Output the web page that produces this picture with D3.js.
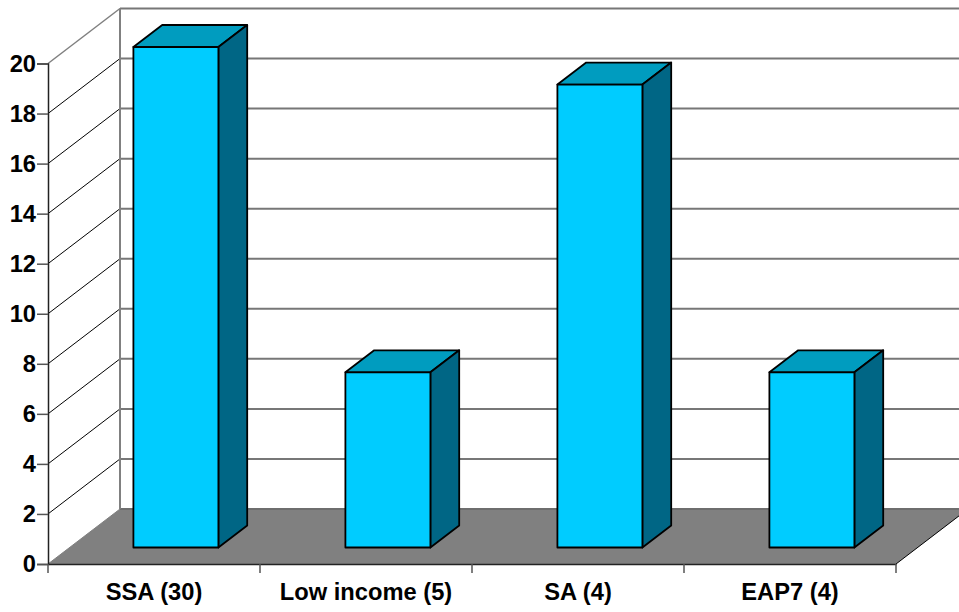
<!DOCTYPE html>
<html>
<head>
<meta charset="utf-8">
<script src="https://cdn.jsdelivr.net/npm/d3@7"></script>
<style>
html,body{margin:0;padding:0;background:#fff;overflow:hidden}
svg{display:block}
text{font-family:"Liberation Sans",Arial,sans-serif;font-weight:bold;fill:#000}
</style>
</head>
<body>
<script>
// Chart content
const categories = ["SSA (30)", "Low income (5)", "SA (4)", "EAP7 (4)"];
const values = [20, 7, 18.5, 7];
const yTicks = [0, 2, 4, 6, 8, 10, 12, 14, 16, 18, 20];

const width = 959, height = 612;
const svg = d3.select("body").append("svg").attr("width", width).attr("height", height);

// Front plane scales
const y = d3.scaleLinear().domain([0, 20]).range([564, 63.5]);
const x = d3.scaleBand().domain(categories).range([48, 896]);

// Oblique projection: depth 0 is the front plane, depth 1 the back wall
const depthX = 72, depthY = -55;
const project = (px, py, d) => [px + depthX * d, py + depthY * d];
const poly = pts => pts.map(p => p.join(",")).join(" ");

const x0 = 48, x1 = 896;

// Floor
svg.append("polygon")
  .attr("points", poly([project(x0, y(0), 0), project(x1, y(0), 0), project(x1, y(0), 1), project(x0, y(0), 1)]))
  .attr("fill", "#808080");

// Right floor edge
svg.append("line")
  .attr("x1", x1).attr("y1", y(0))
  .attr("x2", x1 + depthX).attr("y2", y(0) + depthY)
  .attr("stroke", "#000").attr("stroke-width", 1);

// Grid lines across the side wall and back wall
yTicks.forEach(t => {
  const [bx, by] = project(x0, y(t), 1);
  const edge = t === 20;
  if (t > 0) {
    svg.append("line")
      .attr("x1", x0).attr("y1", y(t)).attr("x2", bx).attr("y2", by)
      .attr("stroke", edge ? "#808080" : "#000").attr("stroke-width", edge ? 1.5 : 1);
  }
  svg.append("line")
    .attr("x1", bx).attr("y1", by).attr("x2", width).attr("y2", by)
    .attr("stroke", t === 0 ? "#6e6e6e" : "#777").attr("stroke-width", 2);
});

// Back wall left edge
svg.append("line")
  .attr("x1", x0 + depthX).attr("y1", y(20) + depthY)
  .attr("x2", x0 + depthX).attr("y2", y(0) + depthY)
  .attr("stroke", "#808080").attr("stroke-width", 2);

// Side wall to floor diagonal
svg.append("line")
  .attr("x1", x0).attr("y1", y(0))
  .attr("x2", x0 + depthX).attr("y2", y(0) + depthY)
  .attr("stroke", "#808080").attr("stroke-width", 1);

// Bars: front, top and side faces, standing part way into the floor
const barOffset = -20.6, barWidth = 85, dNear = 0.3, dFar = 0.7;
const bars = svg.append("g").attr("stroke", "#000").attr("stroke-width", 1.8).attr("stroke-linejoin", "round");
categories.forEach((c, i) => {
  const left = x(c) + x.bandwidth() / 2 + barOffset;
  const right = left + barWidth;
  const base = y(0) + depthY * dNear;
  const top = y(values[i]) + depthY * dNear;
  const dx = depthX * (dFar - dNear), dy = depthY * (dFar - dNear);
  bars.append("polygon").attr("fill", "#009CBF")
    .attr("points", poly([[left, top], [right, top], [right + dx, top + dy], [left + dx, top + dy]]));
  bars.append("polygon").attr("fill", "#006685")
    .attr("points", poly([[right, top], [right + dx, top + dy], [right + dx, base + dy], [right, base]]));
  bars.append("polygon").attr("fill", "#00CCFF")
    .attr("points", poly([[left, top], [right, top], [right, base], [left, base]]));
});

const labelStyle = sel => sel
  .style("font-size", "23.7px")
  .style("font-family", '"Liberation Sans"')
  .style("font-weight", "bold");

// Value axis
const yAxis = svg.append("g").attr("transform", `translate(${x0},0)`)
  .call(d3.axisLeft(y).tickValues(yTicks).tickSize(11).tickPadding(1));
yAxis.select(".domain").attr("stroke", "#222").attr("stroke-width", 1.5);
yAxis.selectAll(".tick line").attr("stroke", "#555").attr("stroke-width", 1.5);
yAxis.selectAll("text").call(labelStyle);

// Category axis
const xAxis = svg.append("g").attr("transform", `translate(0,${y(0)})`)
  .call(d3.axisBottom(x).tickSize(0).tickPadding(19));
xAxis.select(".domain").attr("stroke", "#222").attr("stroke-width", 1.5);
xAxis.selectAll("text").call(labelStyle);
xAxis.selectAll(".edge").data(d3.range(categories.length + 1)).enter().append("line")
  .attr("x1", i => x0 + i * x.step()).attr("x2", i => x0 + i * x.step())
  .attr("y1", 0).attr("y2", 9).attr("stroke", "#555").attr("stroke-width", 1.5);
</script>
</body>
</html>
